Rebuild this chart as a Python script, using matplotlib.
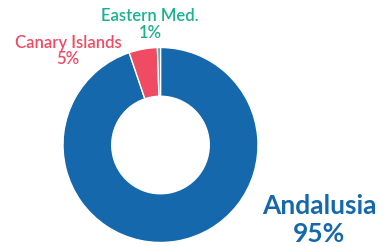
import numpy as np
import matplotlib.pyplot as plt

regions = ['Andalusia', 'Canary Islands', 'Eastern Med.']
shares = [94.8, 4.7, 0.5]
share_labels = ['95%', '5%', '1%']
colors = ['#1668ac', '#ef4b63', '#1bb08f']

W, H = 385, 246
fig = plt.figure(figsize=(W / 100, H / 100), dpi=100)
ax = fig.add_axes([0, 0, 1, 1])
ax.set_xlim(0, W)
ax.set_ylim(0, H)
ax.set_aspect('equal')
ax.axis('off')

cx, cy, r = 160.5, H - 145, 97.5
ax.pie(shares, colors=colors, startangle=90, counterclock=False,
       center=(cx, cy), radius=r, frame=True,
       wedgeprops=dict(width=r * 0.5, edgecolor='white', linewidth=1))
ax.set_xlim(0, W)
ax.set_ylim(0, H)
ax.axis('off')

font = 'Lato'
# small labels
ax.text(68, H - 43, regions[1], color=colors[1], ha='center', va='center',
        fontsize=12, family=font, fontweight='semibold')
ax.text(68, H - 59, share_labels[1], color=colors[1], ha='center', va='center',
        fontsize=12, family=font, fontweight='semibold')
ax.text(150, H - 16, regions[2], color=colors[2], ha='center', va='center',
        fontsize=12, family=font, fontweight='semibold')
ax.text(150, H - 33, share_labels[2], color=colors[2], ha='center', va='center',
        fontsize=12, family=font, fontweight='semibold')
# big label
ax.text(319, H - 206, regions[0], color=colors[0], ha='center', va='center',
        fontsize=19, family=font, fontweight='bold')
ax.text(319, H - 234, share_labels[0], color=colors[0], ha='center', va='center',
        fontsize=19, family=font, fontweight='bold')

fig.savefig('out.png', dpi=100)
